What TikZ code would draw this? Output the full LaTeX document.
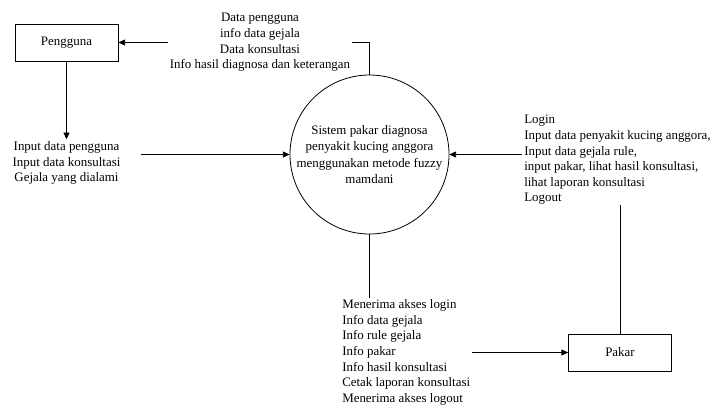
\documentclass[tikz,border=0pt]{standalone}
\usepackage{fontspec}
\setmainfont{Liberation Serif}
\usetikzlibrary{arrows.meta}

\tikzset{
  entitas/.style={draw, line width=0.6pt, minimum width=103*0.75pt, minimum height=37*0.75pt, inner sep=0pt},
  alir/.style={inner sep=1.5pt, font=\fontsize{9.7}{11.7}\selectfont},
  panah/.style={line width=0.6pt, -{Triangle[length=5pt,width=4.5pt]}},
  garis/.style={line width=0.6pt}
}

\begin{document}
\begin{tikzpicture}[x=0.75pt,y=0.75pt,yscale=-1,xscale=1]
\useasboundingbox (0,0) rectangle (711,405);

% Entitas
\node [entitas, font=\fontsize{9.7}{11.7}\selectfont] (pengguna) at (66.5,42.5) {Pengguna};
\node [entitas, font=\fontsize{9.7}{11.7}\selectfont] (pakar) at (620,352.5) {Pakar};

% Proses
\node [draw, circle, line width=0.6pt, minimum size=159*0.75pt, inner sep=0pt, align=center, font=\fontsize{9.7}{12.3}\selectfont] (proses) at (369.5,154.5) {Sistem pakar diagnosa\\penyakit kucing anggora\\menggunakan metode fuzzy\\mamdani};

% Text Node
\node [alir, align=center] (alirAtas) at (260,42.5) {Data pengguna\\info data gejala\\Data konsultasi\\Info hasil diagnosa dan keterangan};
% Text Node
\node [alir, align=center] (alirKiri) at (66.5,163) {Input data pengguna\\Input data konsultasi\\Gejala yang dialami};
% Text Node
\node [alir, align=left, anchor=north west] (alirKanan) at (522,113) {Login\\Input data penyakit kucing anggora,\\Input data gejala rule,\\input pakar, lihat hasil konsultasi,\\lihat laporan konsultasi\\Logout};
% Text Node
\node [alir, align=left, anchor=north west] (alirBawah) at (340,297.5) {Menerima akses login\\Info data gejala\\Info rule gejala\\Info pakar\\Info hasil konsultasi\\Cetak laporan konsultasi\\Menerima akses logout};

\coordinate (pakarAtas) at (620,205);

% Aliran data
\draw [garis] (proses.north) |- (alirAtas.east);
\draw [panah] (alirAtas.west) -- (pengguna.east);
\draw [panah] (pengguna.south) -- (alirKiri.north);
\draw [panah] ([xshift=13.5pt]alirKiri.east |- proses.west) -- (proses.west);
\draw [garis] (pakar.north) -- (pakarAtas);
\draw [panah] (alirKanan.west |- proses.east) -- (proses.east);
\draw [garis] (proses.south) -- (proses.south |- alirBawah.north);
\draw [panah] (alirBawah.east |- pakar.west) -- (pakar.west);

\end{tikzpicture}
\end{document}
